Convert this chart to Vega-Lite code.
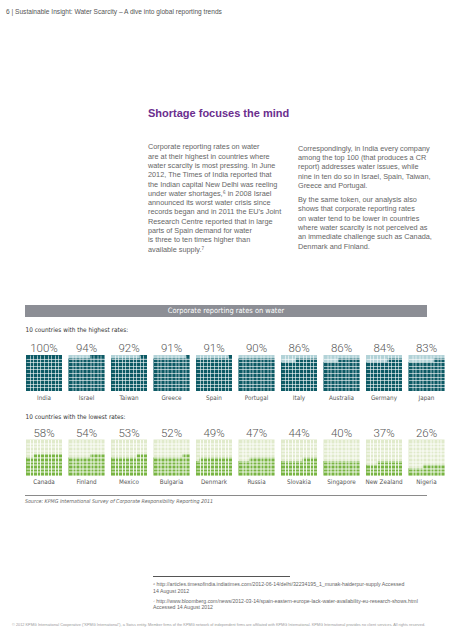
{
  "$schema": "https://vega.github.io/schema/vega-lite/v6.json",
  "padding": {"top": 8, "left": 0, "right": 0, "bottom": 0},
  "spacing": 9,
  "config": {
    "view": {"stroke": null},
    "font": "Liberation Sans",
    "title": {"font": "Liberation Sans", "fontWeight": "normal"}
  },
  "datasets": {
    "rates": [
      {"group": "highest", "country": "India", "pct": 100},
      {"group": "highest", "country": "Israel", "pct": 94},
      {"group": "highest", "country": "Taiwan", "pct": 92},
      {"group": "highest", "country": "Greece", "pct": 91},
      {"group": "highest", "country": "Spain", "pct": 91},
      {"group": "highest", "country": "Portugal", "pct": 90},
      {"group": "highest", "country": "Italy", "pct": 86},
      {"group": "highest", "country": "Australia", "pct": 86},
      {"group": "highest", "country": "Germany", "pct": 84},
      {"group": "highest", "country": "Japan", "pct": 83},
      {"group": "lowest", "country": "Canada", "pct": 58},
      {"group": "lowest", "country": "Finland", "pct": 54},
      {"group": "lowest", "country": "Mexico", "pct": 53},
      {"group": "lowest", "country": "Bulgaria", "pct": 52},
      {"group": "lowest", "country": "Denmark", "pct": 49},
      {"group": "lowest", "country": "Russia", "pct": 47},
      {"group": "lowest", "country": "Slovakia", "pct": 44},
      {"group": "lowest", "country": "Singapore", "pct": 40},
      {"group": "lowest", "country": "New Zealand", "pct": 37},
      {"group": "lowest", "country": "Nigeria", "pct": 26}
    ],
    "chartTitle": [{"title": "Corporate reporting rates on water"}],
    "empty": []
  },
  "title": {
    "text": "© 2012 KPMG International Cooperative (“KPMG International”), a Swiss entity. Member firms of the KPMG network of independent firms are affiliated with KPMG International. KPMG International provides no client services. All rights reserved.",
    "orient": "bottom", "anchor": "start", "dx": 12, "offset": 13,
    "fontSize": 3.85, "color": "#9a9a9a", "font": "Liberation Sans"
  },
  "vconcat": [
    {
      "title": {
        "text": "6 | Sustainable Insight: Water Scarcity – A dive into global reporting trends",
        "anchor": "start", "dx": 6, "offset": 93, "fontSize": 6.6, "color": "#555555", "font": "Liberation Sans"
      },
      "spacing": 0,
      "hconcat": [
        {
          "width": 298, "height": 41,
          "data": {"name": "empty"},
          "mark": {"type": "point", "opacity": 0},
          "encoding": {},
          "title": {
            "text": "Shortage focuses the mind",
            "subtitle": [
              "Corporate reporting rates on water",
              "are at their highest in countries where",
              "water scarcity is most pressing. In June",
              "2012, The Times of India reported that",
              "the Indian capital New Delhi was reeling",
              "under water shortages,⁶ in 2008 Israel",
              "announced its worst water crisis since",
              "records began and in 2011 the EU’s Joint",
              "Research Centre reported that in large",
              "parts of Spain demand for water",
              "is three to ten times higher than",
              "available supply.⁷"
            ],
            "anchor": "start", "dx": 148, "offset": 2,
            "fontSize": 11, "fontWeight": "bold", "color": "#6b2e8e", "font": "Liberation Sans",
            "subtitleFontSize": 7.3, "subtitleColor": "#666666", "subtitleFont": "Liberation Sans",
            "subtitleLineHeight": 9.3, "subtitlePadding": 24
          }
        },
        {
          "width": 150, "height": 41,
          "data": {"name": "empty"},
          "mark": {"type": "point", "opacity": 0},
          "encoding": {},
          "title": {
            "text": [
              "Correspondingly, in India every company",
              "among the top 100 (that produces a CR",
              "report) addresses water issues, while",
              "nine in ten do so in Israel, Spain, Taiwan,",
              "Greece and Portugal."
            ],
            "subtitle": [
              "By the same token, our analysis also",
              "shows that corporate reporting rates",
              "on water tend to be lower in countries",
              "where water scarcity is not perceived as",
              "an immediate challenge such as Canada,",
              "Denmark and Finland."
            ],
            "anchor": "start", "offset": 5,
            "fontSize": 7.3, "fontWeight": "normal", "color": "#666666", "font": "Liberation Sans", "lineHeight": 9.3,
            "subtitleFontSize": 7.3, "subtitleColor": "#666666", "subtitleFont": "Liberation Sans",
            "subtitleLineHeight": 9.3, "subtitlePadding": 7
          }
        }
      ]
    },
    {
      "spacing": 0,
      "hconcat": [
        {"width": 25, "height": 1, "data": {"name": "empty"}, "mark": {"type": "point", "opacity": 0}, "encoding": {}},
        {
          "width": 402, "height": 12,
          "view": {"fill": "#8c8e95", "stroke": null},
          "data": {"name": "chartTitle"},
          "mark": {"type": "text", "color": "#ffffff", "fontSize": 7.4, "font": "DejaVu Sans Condensed, Liberation Sans Narrow, sans-serif"},
          "encoding": {"text": {"field": "title", "type": "nominal"}}
        }
      ]
    },
    {
      "spacing": 0,
      "hconcat": [
        {"width": 25, "height": 1, "data": {"name": "empty"}, "mark": {"type": "point", "opacity": 0}, "encoding": {}},
        {
          "spacing": 12.5,
          "vconcat": [
            {
              "title": {"text": "10 countries with the highest rates:", "anchor": "start", "offset": 10, "fontSize": 6.4, "color": "#333333", "font": "DejaVu Sans Condensed, Liberation Sans Narrow, sans-serif"},
              "data": {"name": "rates"},
              "transform": [
                {"filter": "datum.group === 'highest'"},
                {"calculate": "floor(datum.pct / 10)", "as": "full"},
                {"calculate": "datum.pct % 10", "as": "rem"},
                {"calculate": "10 - datum.rem", "as": "start"},
                {"calculate": "datum.full + 1", "as": "top"},
                {"calculate": "0", "as": "lo"},
                {"calculate": "10", "as": "hi"},
                {"calculate": "datum.pct + '%'", "as": "label"}
              ],
              "facet": {"column": {"field": "country", "type": "nominal", "title": null,
                "sort": ["India", "Israel", "Taiwan", "Greece", "Spain", "Portugal", "Italy", "Australia", "Germany", "Japan"],
                "header": {"labelOrient": "bottom", "labelPadding": 2.5, "labelFontSize": 6.3, "labelColor": "#555555", "labelFont": "DejaVu Sans Condensed, Liberation Sans Narrow, sans-serif"}}},
              "spacing": {"column": 4.5},
              "resolve": {"axis": {"x": "independent", "y": "independent"}},
              "spec": {
                "width": 36, "height": 36,
                "layer": [
                  {
                    "mark": {"type": "rect", "color": "#b3d3d8"},
                    "encoding": {
                      "x": {"field": "lo", "type": "quantitative", "scale": {"domain": [0, 10], "nice": false, "zero": false},
                        "axis": {"orient": "top", "values": [1,2,3,4,5,6,7,8,9], "tickCount": 20, "grid": false, "labels": false, "ticks": true, "tickSize": -36, "tickColor": "#ffffff", "tickOpacity": 0.6, "tickWidth": 1, "domain": false, "title": null, "zindex": 1}},
                      "x2": {"field": "hi"},
                      "y": {"field": "lo", "type": "quantitative", "scale": {"domain": [0, 10], "nice": false, "zero": false},
                        "axis": {"orient": "left", "values": [1,2,3,4,5,6,7,8,9], "tickCount": 20, "grid": false, "labels": false, "ticks": true, "tickSize": -36, "tickColor": "#ffffff", "tickOpacity": 0.6, "tickWidth": 1, "domain": false, "title": null, "zindex": 1}},
                      "y2": {"field": "hi"}
                    }
                  },
                  {
                    "mark": {"type": "rect", "color": "#0d5a65"},
                    "encoding": {
                      "x": {"field": "lo", "type": "quantitative"},
                      "x2": {"field": "hi"},
                      "y": {"field": "lo", "type": "quantitative"},
                      "y2": {"field": "full"}
                    }
                  },
                  {
                    "transform": [{"filter": "datum.rem > 0"}],
                    "mark": {"type": "rect", "color": "#0d5a65"},
                    "encoding": {
                      "x": {"field": "start", "type": "quantitative"},
                      "x2": {"field": "hi"},
                      "y": {"field": "full", "type": "quantitative"},
                      "y2": {"field": "top"}
                    }
                  },
                  {
                    "mark": {"type": "text", "baseline": "alphabetic", "dy": -3, "fontSize": 11.5, "fontWeight": 300, "color": "#555555", "font": "Roboto, Liberation Sans, sans-serif"},
                    "encoding": {
                      "y": {"field": "hi", "type": "quantitative"},
                      "text": {"field": "label", "type": "nominal"}
                    }
                  }
                ]
              }
            },
            {
              "title": {"text": "10 countries with the lowest rates:", "anchor": "start", "offset": 7, "fontSize": 6.4, "color": "#333333", "font": "DejaVu Sans Condensed, Liberation Sans Narrow, sans-serif"},
              "data": {"name": "rates"},
              "transform": [
                {"filter": "datum.group === 'lowest'"},
                {"calculate": "floor(datum.pct / 10)", "as": "full"},
                {"calculate": "datum.pct % 10", "as": "rem"},
                {"calculate": "10 - datum.rem", "as": "start"},
                {"calculate": "datum.full + 1", "as": "top"},
                {"calculate": "0", "as": "lo"},
                {"calculate": "10", "as": "hi"},
                {"calculate": "datum.pct + '%'", "as": "label"}
              ],
              "facet": {"column": {"field": "country", "type": "nominal", "title": null,
                "sort": ["Canada", "Finland", "Mexico", "Bulgaria", "Denmark", "Russia", "Slovakia", "Singapore", "New Zealand", "Nigeria"],
                "header": {"labelOrient": "bottom", "labelPadding": 2.5, "labelFontSize": 6.3, "labelColor": "#555555", "labelFont": "DejaVu Sans Condensed, Liberation Sans Narrow, sans-serif"}}},
              "spacing": {"column": 4.5},
              "resolve": {"axis": {"x": "independent", "y": "independent"}},
              "spec": {
                "width": 36, "height": 36,
                "layer": [
                  {
                    "mark": {"type": "rect", "color": "#e0eacb"},
                    "encoding": {
                      "x": {"field": "lo", "type": "quantitative", "scale": {"domain": [0, 10], "nice": false, "zero": false},
                        "axis": {"orient": "top", "values": [1,2,3,4,5,6,7,8,9], "tickCount": 20, "grid": false, "labels": false, "ticks": true, "tickSize": -36, "tickColor": "#ffffff", "tickOpacity": 0.85, "tickWidth": 1, "domain": false, "title": null, "zindex": 1}},
                      "x2": {"field": "hi"},
                      "y": {"field": "lo", "type": "quantitative", "scale": {"domain": [0, 10], "nice": false, "zero": false},
                        "axis": {"orient": "left", "values": [1,2,3,4,5,6,7,8,9], "tickCount": 20, "grid": false, "labels": false, "ticks": true, "tickSize": -36, "tickColor": "#ffffff", "tickOpacity": 0.85, "tickWidth": 1, "domain": false, "title": null, "zindex": 1}},
                      "y2": {"field": "hi"}
                    }
                  },
                  {
                    "mark": {"type": "rect", "color": "#79b543"},
                    "encoding": {
                      "x": {"field": "lo", "type": "quantitative"},
                      "x2": {"field": "hi"},
                      "y": {"field": "lo", "type": "quantitative"},
                      "y2": {"field": "full"}
                    }
                  },
                  {
                    "transform": [{"filter": "datum.rem > 0"}],
                    "mark": {"type": "rect", "color": "#79b543"},
                    "encoding": {
                      "x": {"field": "start", "type": "quantitative"},
                      "x2": {"field": "hi"},
                      "y": {"field": "full", "type": "quantitative"},
                      "y2": {"field": "top"}
                    }
                  },
                  {
                    "mark": {"type": "text", "baseline": "alphabetic", "dy": -3, "fontSize": 11.5, "fontWeight": 300, "color": "#555555", "font": "Roboto, Liberation Sans, sans-serif"},
                    "encoding": {
                      "y": {"field": "hi", "type": "quantitative"},
                      "text": {"field": "label", "type": "nominal"}
                    }
                  }
                ]
              }
            }
          ]
        }
      ]
    },
    {
      "spacing": 0,
      "hconcat": [
        {"width": 25, "height": 1, "data": {"name": "empty"}, "mark": {"type": "point", "opacity": 0}, "encoding": {}},
        {
          "width": 402, "height": 1,
          "view": {"fill": "#8a8a8a", "stroke": null},
          "data": {"name": "empty"},
          "mark": {"type": "point", "opacity": 0},
          "encoding": {},
          "title": {"text": "Source: KPMG International Survey of Corporate Responsibility Reporting 2011", "orient": "bottom", "anchor": "start", "offset": 3,
            "fontSize": 5.3, "fontStyle": "italic", "color": "#666666", "font": "DejaVu Sans Condensed, Liberation Sans Narrow, sans-serif"}
        }
      ]
    },
    {"width": 1, "height": 53, "data": {"name": "empty"}, "mark": {"type": "point", "opacity": 0}, "encoding": {}},
    {
      "spacing": 0,
      "hconcat": [
        {"width": 153, "height": 1, "data": {"name": "empty"}, "mark": {"type": "point", "opacity": 0}, "encoding": {}},
        {
          "width": 137, "height": 1,
          "view": {"fill": "#555555", "stroke": null},
          "data": {"name": "empty"},
          "mark": {"type": "point", "opacity": 0},
          "encoding": {},
          "title": {
            "text": ["⁶ http://articles.timesofindia.indiatimes.com/2012-06-14/delhi/32234195_1_munak-haiderpur-supply Accessed", "   14 August 2012"],
            "subtitle": ["⁷ http://www.bloomberg.com/news/2012-03-14/spain-eastern-europe-lack-water-availability-eu-research-shows.html", "   Accessed 14 August 2012"],
            "orient": "bottom", "anchor": "start", "offset": 5,
            "fontSize": 5.2, "color": "#666666", "lineHeight": 6.5, "font": "Liberation Sans",
            "subtitleFontSize": 5.2, "subtitleColor": "#666666", "subtitleLineHeight": 6.5, "subtitlePadding": 5, "subtitleFont": "Liberation Sans"
          }
        }
      ]
    }
  ]
}
